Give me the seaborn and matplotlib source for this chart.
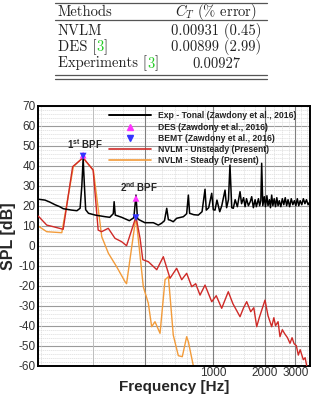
import numpy as np
import pandas as pd
import matplotlib
matplotlib.use("Agg")
import matplotlib.pyplot as plt
from matplotlib.lines import Line2D
import seaborn as sns

# ---------------- data ----------------
exp_freq = [97, 105, 112, 120, 128, 134, 150, 161, 168, 172, 175, 178, 181, 188, 206, 235, 250, 262, 265, 269,
            293, 325, 345, 355, 362, 366, 400, 448, 479, 500, 520, 536, 548, 560, 585, 612, 670, 700, 716, 728,
            770, 818, 860, 895, 910, 940, 979, 1000, 1023, 1050, 1090, 1120, 1170, 1195, 1225, 1250, 1280, 1307,
            1340, 1380, 1430, 1460, 1500, 1530, 1560, 1600, 1640, 1672, 1710, 1750, 1780, 1830, 1860, 1890,
            1911, 1940, 1980, 2010, 2050, 2080, 2120, 2150, 2185, 2220, 2260, 2300, 2340, 2380, 2420, 2470,
            2520, 2570, 2620, 2670, 2720, 2780, 2840, 2900, 2960, 3020, 3080, 3140, 3200, 3270, 3340, 3410,
            3480, 3560, 3650]
exp_spl = [23.2, 22.8, 21.8, 20.5, 19.5, 18.5, 17.8, 17.5, 18.7, 30, 43.7, 30, 18, 16.2, 15.3, 14.5, 14.2, 16, 22, 15.3,
           14.2, 12.5, 14, 25.3, 14, 13.2, 11.5, 11.5, 10.3, 11.2, 12.5, 18.7, 13, 12.8, 12, 13.7, 14.5, 16, 25.3, 16.2,
           15.5, 15.3, 17, 28.2, 17.8, 19, 26.2, 18, 17.8, 22.8, 17, 20, 27.8, 19, 23, 40.3, 19, 18.7,
           23, 19.5, 27, 21, 24, 19.5, 23.5, 20, 22, 24.5, 19, 23, 19.5, 23.5, 20, 22.5,
           41.2, 20, 24.5, 19.5, 25, 20, 23, 19, 25.3, 20, 23.5, 19.5, 24, 20, 22.5, 19.5,
           23.5, 20.5, 24, 20, 23, 19.5, 23.5, 20.5, 22.5, 20, 23.5, 20, 22.5, 20.5, 23.5, 21,
           23, 20.5, 22]

uns_freq = [96, 107.5, 117.4, 134, 152, 175, 200, 214, 224, 245, 268, 293, 313, 335, 355, 375, 389, 419, 469, 512,
            560, 612, 655, 700, 749, 790, 837, 895, 979, 1040, 1119, 1222, 1300, 1430, 1500, 1564, 1650, 1720, 1788,
            1850, 1998, 2080, 2185, 2250, 2300, 2380, 2442, 2520, 2600, 2700, 2792, 2870, 2950, 3040, 3121, 3200,
            3337, 3420, 3491, 3600]
uns_spl = [14.8, 10.3, 9.5, 8.2, 39.5, 44, 37.8, 7.8, 7, 8.7, 3.7, 2, 0, 7.8, 14.5, 3.7, -7, -8, -12, -5.5,
           -16.3, -11.3, -17, -13.8, -20.5, -19, -24.7, -19.7, -28, -25, -31.3, -23, -29, -35.5, -31, -28, -33, -31, -40.5,
           -36, -27.2, -35, -40.5, -36, -40, -38, -45.5, -42, -44, -46, -48.8, -46, -49, -50, -54.7, -52,
           -57, -56, -60, -63]

std_freq = [96, 107.5, 131.5, 153.5, 174, 200.6, 224.5, 245.4, 274, 306.6, 313, 355, 391.7, 418.9, 438, 458, 490,
            524, 548, 560, 585, 626, 660, 700, 716, 765, 780]
std_spl = [9.8, 7, 6.5, 39.5, 44, 37.8, 4.5, -3.8, -10.5, -18, -19, 14.5, -20.5, -28.8, -40.5, -38, -43.8,
           -17, -15.5, -25, -44.7, -55, -55.5, -45.5, -48, -60, -65]

des_freq = [175, 355]
des_spl = [45.3, 23.7]
bemt_freq = [175, 355]
bemt_spl = [44.8, 14.0]

labels = ["Exp - Tonal (Zawdony et al., 2016)", "DES (Zawdony et al., 2016)",
          "BEMT (Zawdony et al., 2016)", "NVLM - Unsteady (Present)", "NVLM - Steady (Present)"]
yticks = list(range(-60, 71, 10))
xticks = [1000, 2000, 3000]

table_header = ["Methods", r"$C_T$ (% error)"]
table_methods = ["NVLM", "DES", "Experiments"]
table_refs = [None, "3", "3"]
table_values = ["0.00931 (0.45)", "0.00899 (2.99)", "0.00927"]

# ---------------- style ----------------
sns.set_style("white")
plt.rcParams["font.family"] = ["Liberation Sans", "DejaVu Sans"]
plt.rcParams["mathtext.fontset"] = "custom"
plt.rcParams["mathtext.rm"] = "Liberation Sans:bold"
plt.rcParams["mathtext.bf"] = "Liberation Sans:bold"

W, H = 312, 395
fig = plt.figure(figsize=(W / 100, H / 100), dpi=100)
ax = fig.add_axes([38.3 / W, 1 - 365.7 / H, (310 - 38.3) / W, (365.7 - 105.7) / H])
ax.set_xscale("log")
ax.set_xlim(96, 3650)
ax.set_ylim(-60, 70)

# grid
for y in np.arange(-60, 71, 2):
    if y % 10 == 0:
        ax.axhline(y, color="#9a9a9a", lw=0.8, zorder=0)
    else:
        ax.axhline(y, color="#dcdcdc", lw=0.5, ls=(0, (2, 1)), zorder=0)
minor_x = [100, 300, 500, 600, 700, 800, 900, 1250, 1500, 1750, 2250, 2500, 2750, 3250, 3500]
for x in minor_x:
    ax.axvline(x, color="#dcdcdc", lw=0.5, ls=(0, (2, 1)), zorder=0)
for x in [200]:
    ax.axvline(x, color="#bdbdbd", lw=0.7, zorder=0)
for x in [400, 1000, 2000, 3000]:
    ax.axvline(x, color="#7f7f7f", lw=0.8, zorder=0)

red = "#cf2a27"
orange = "#f29b3a"
df_exp = pd.DataFrame({"freq": exp_freq, "spl": exp_spl})
df_uns = pd.DataFrame({"freq": uns_freq, "spl": uns_spl})
df_std = pd.DataFrame({"freq": std_freq, "spl": std_spl})
sns.lineplot(data=df_uns, x="freq", y="spl", color=red, lw=1.0, sort=False, estimator=None, ax=ax, zorder=3)
sns.lineplot(data=df_std, x="freq", y="spl", color=orange, lw=1.0, sort=False, estimator=None, ax=ax, zorder=2)
sns.lineplot(data=df_exp, x="freq", y="spl", color="black", lw=1.1, sort=False, estimator=None, ax=ax, zorder=4)
sns.scatterplot(x=des_freq, y=des_spl, marker="^", color="#ff33ff", s=24, edgecolor="none", ax=ax, zorder=5)
sns.scatterplot(x=bemt_freq, y=bemt_spl, marker="v", color="#3333ff", s=24, edgecolor="none", ax=ax, zorder=6)

ax.set_xticks(xticks)
ax.set_xticklabels([str(t) for t in xticks])
ax.xaxis.set_minor_locator(matplotlib.ticker.NullLocator())
ax.set_yticks(yticks)
ax.set_yticklabels([str(t).replace("\u2212", "-") for t in yticks])
ax.tick_params(axis="both", direction="in", length=4, width=1.2, labelsize=8.5, pad=2, colors="black")
ax.tick_params(axis="x", pad=1.2)
for lbl in ax.get_xticklabels() + ax.get_yticklabels():
    lbl.set_color("#333333")
for s in ax.spines.values():
    s.set_linewidth(1.4)
    s.set_color("black")
ax.set_xlabel("Frequency [Hz]", fontsize=11, fontweight="bold", labelpad=0.2)
ax.set_ylabel("SPL [dB]", fontsize=11.5, fontweight="bold", labelpad=2)

# annotations
ax.text(178, 47.5, r"1$^{\mathbf{st}}$ BPF", fontsize=7, fontweight="bold", ha="center", va="bottom")
ax.text(370, 25.8, r"2$^{\mathbf{nd}}$ BPF", fontsize=7, fontweight="bold", ha="center", va="bottom")

handles = [
    Line2D([], [], color="black", lw=1.4),
    Line2D([], [], color="#ff33ff", marker="^", ls="none", ms=4.5),
    Line2D([], [], color="#3333ff", marker="v", ls="none", ms=4.5),
    Line2D([], [], color=red, lw=1.2),
    Line2D([], [], color=orange, lw=1.2),
]
leg = ax.legend(handles, labels, loc="upper left", bbox_to_anchor=((106 - 38.3) / 271.7, (365.7 - 108) / 260),
                frameon=False, handlelength=4.8, handletextpad=0.8, labelspacing=0.25,
                borderaxespad=0, prop={"family": "Liberation Sans", "weight": "bold", "size": 6.2})
for t in leg.get_texts():
    t.set_color("#222222")

# ---------------- table ----------------
def fx(px):
    return px / W

def fy(py):
    return 1 - py / H

for yy in [3.3, 19.5, 75.3, 78.8]:
    fig.add_artist(Line2D([fx(55), fx(267)], [fy(yy), fy(yy)], color="#555555", lw=0.9))

fig.canvas.draw()
renderer = fig.canvas.get_renderer()
tfont = dict(fontfamily="cmr10", fontsize=10.5, math_fontfamily="cm", color="#222222")
fig.text(fx(58), fy(15.5), table_header[0], ha="left", va="baseline", **tfont)
fig.text(fx(216), fy(15.5), table_header[1], ha="center", va="baseline", **tfont)
row_y = [35, 51, 67.5]
for m, r, v, ry in zip(table_methods, table_refs, table_values, row_y):
    t = fig.text(fx(58), fy(ry), m + (" [" if r else ""), ha="left", va="baseline", **tfont)
    if r:
        bb = t.get_window_extent(renderer)
        t2 = fig.text(bb.x1 / W, fy(ry), r, ha="left", va="baseline",
                      **{**tfont, "color": "#22cc22"})
        bb2 = t2.get_window_extent(renderer)
        fig.text(bb2.x1 / W, fy(ry), "]", ha="left", va="baseline", **tfont)
    fig.text(fx(216), fy(ry), v, ha="center", va="baseline", **tfont)

fig.savefig("out.png", dpi=100)
